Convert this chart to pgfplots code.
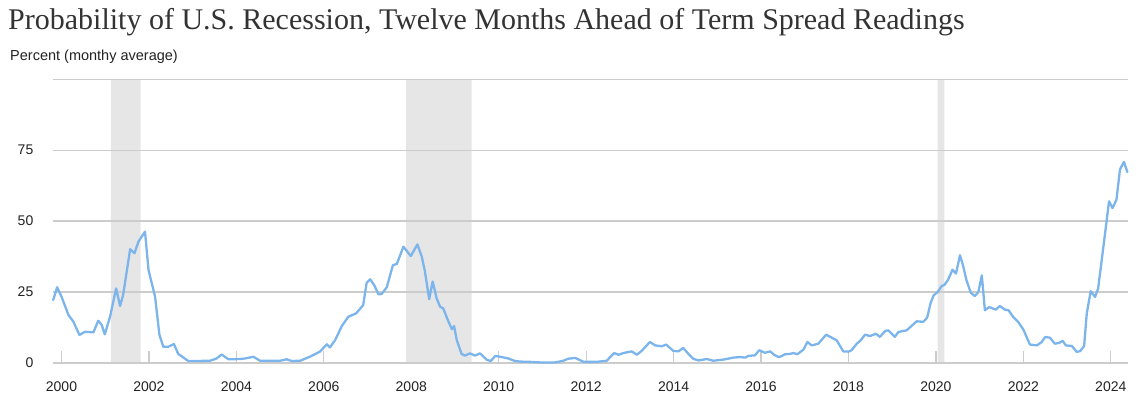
\documentclass[border=0pt]{standalone}
\usepackage{pgfplots}
\pgfplotsset{compat=1.18}
\usepackage{fontspec}
\setmainfont{Liberation Sans}
\newfontfamily\titlefont{Liberation Serif}
\definecolor{gridc}{HTML}{CCCCCC}
\definecolor{shadec}{HTML}{E6E6E6}
\definecolor{linec}{HTML}{7CB5EC}
\definecolor{txtc}{HTML}{222222}
\definecolor{titlec}{HTML}{333333}
\begin{document}
\begin{tikzpicture}[x=1pt,y=1pt]
\useasboundingbox (0,0) rectangle (1145,406);
\node[anchor=base west, inner sep=0pt, text=titlec] at (8,376) {\titlefont\fontsize{30}{34}\selectfont Probability of U.S. Recession, Twelve Months Ahead of Term Spread Readings};
\node[anchor=base west, inner sep=0pt, text=txtc] at (10,345) {\fontsize{14.5}{17}\selectfont Percent (monthy average)};
\begin{axis}[
  at={(53.3pt,43pt)}, anchor=south west,
  scale only axis, width=1074.4pt, height=283.7pt,
  xmin=1999.8124, xmax=2024.387, ymin=0, ymax=100,
  clip=false,
  axis line style={draw=none},
  xtick={2000,2002,...,2024},
  ytick={0,25,50,75},
  xtick pos=bottom, ytick pos=left,
  tick align=inside,
  major tick length=12pt,
  xtick style={gridc, line width=1.3pt},
  ytick style={draw=none},
  tick label style={font=\fontsize{14}{16}\selectfont, text=txtc, inner sep=0pt,
    /pgf/number format/assume math mode=true, /pgf/number format/1000 sep={}},
  xticklabel style={anchor=north},
  yticklabel style={anchor=east},
  xticklabel shift=19pt,
  yticklabel shift=19.8pt,
]
% recessions
\addplot[fill=shadec, draw=none] coordinates {(2001.132,0)(2001.132,100)(2001.812,100)(2001.812,0)} \closedcycle;
\addplot[fill=shadec, draw=none] coordinates {(2007.880,0)(2007.880,100)(2009.382,100)(2009.382,0)} \closedcycle;
\addplot[fill=shadec, draw=none] coordinates {(2020.040,0)(2020.040,100)(2020.191,100)(2020.191,0)} \closedcycle;
% grid lines
\addplot[gridc, line width=1.3pt] coordinates {(1999.8124,0)(2024.387,0)};
\addplot[gridc, line width=1.3pt] coordinates {(1999.8124,25)(2024.387,25)};
\addplot[gridc, line width=1.3pt] coordinates {(1999.8124,50)(2024.387,50)};
\addplot[gridc, line width=1.3pt] coordinates {(1999.8124,75)(2024.387,75)};
\addplot[gridc, line width=1.3pt] coordinates {(1999.8124,100)(2024.387,100)};
% probability
\addplot[linec, line width=2.3pt, line join=round, line cap=round] coordinates {
(1999.81,22.2)(1999.90,26.7)(2000.00,23.4)(2000.16,16.9)(2000.27,14.6)(2000.41,9.9)
(2000.54,11.0)(2000.73,10.8)(2000.84,14.9)(2000.92,13.4)(2000.99,10.1)(2001.11,16.3)
(2001.25,26.3)(2001.34,20.1)(2001.41,24.0)(2001.57,40.1)(2001.67,38.7)(2001.76,42.8)
(2001.91,46.3)(2001.99,32.8)(2002.14,23.4)(2002.24,9.9)(2002.33,5.7)(2002.44,5.7)
(2002.57,6.7)(2002.67,3.2)(2002.90,0.7)(2003.09,0.7)(2003.40,0.8)(2003.55,1.6)
(2003.66,3.0)(2003.82,1.3)(2004.08,1.4)(2004.20,1.6)(2004.39,2.2)(2004.54,0.8)
(2005.00,0.8)(2005.15,1.3)(2005.27,0.7)(2005.46,0.8)(2005.68,2.2)(2005.91,4.0)
(2006.07,6.6)(2006.14,5.5)(2006.26,8.1)(2006.41,13.0)(2006.56,16.3)(2006.74,17.5)
(2006.90,20.4)(2006.98,28.3)(2007.06,29.5)(2007.15,27.5)(2007.25,24.2)(2007.32,24.3)
(2007.44,26.7)(2007.58,34.5)(2007.67,34.9)(2007.82,41.0)(2007.99,37.7)(2008.14,41.8)
(2008.24,37.5)(2008.31,32.5)(2008.41,22.5)(2008.49,28.7)(2008.58,22.8)(2008.66,19.8)
(2008.73,19.3)(2008.85,14.6)(2008.93,11.9)(2008.98,13.0)(2009.04,8.1)(2009.15,3.2)
(2009.23,2.6)(2009.34,3.4)(2009.46,2.6)(2009.57,3.4)(2009.73,1.1)(2009.82,0.7)
(2009.92,2.5)(2010.03,2.2)(2010.22,1.6)(2010.37,0.7)(2010.49,0.5)(2010.72,0.4)
(2010.94,0.2)(2011.29,0.2)(2011.48,0.8)(2011.59,1.5)(2011.75,1.8)(2011.94,0.4)
(2012.24,0.4)(2012.47,0.8)(2012.64,3.5)(2012.74,2.9)(2012.85,3.5)(2013.04,4.1)
(2013.16,2.9)(2013.27,4.3)(2013.46,7.4)(2013.58,6.2)(2013.73,5.9)(2013.83,6.5)
(2013.99,4.3)(2014.11,4.1)(2014.22,5.3)(2014.34,3.2)(2014.45,1.5)(2014.57,0.9)
(2014.76,1.4)(2014.91,0.8)(2015.14,1.2)(2015.37,1.9)(2015.52,2.1)(2015.64,1.9)
(2015.71,2.5)(2015.86,2.7)(2015.96,4.5)(2016.09,3.6)(2016.21,4.1)(2016.30,2.9)
(2016.40,2.1)(2016.47,2.4)(2016.55,3.1)(2016.66,3.2)(2016.74,3.5)(2016.83,3.1)
(2016.97,4.7)(2017.06,7.4)(2017.16,6.2)(2017.31,6.8)(2017.49,10.0)(2017.62,8.9)
(2017.73,8.0)(2017.88,4.1)(2018.00,4.0)(2018.07,4.5)(2018.19,6.8)(2018.28,8.0)
(2018.38,10.0)(2018.49,9.5)(2018.63,10.3)(2018.72,9.2)(2018.84,11.3)(2018.91,11.5)
(2019.06,9.2)(2019.14,10.9)(2019.25,11.3)(2019.33,11.5)(2019.56,14.7)(2019.71,14.5)
(2019.80,16.0)(2019.88,21.2)(2019.95,23.9)(2020.04,25.0)(2020.13,27.1)(2020.20,27.6)
(2020.28,29.4)(2020.38,32.9)(2020.46,31.5)(2020.55,38.0)(2020.62,34.4)(2020.70,29.1)
(2020.80,24.7)(2020.89,23.6)(2020.97,25.0)(2021.05,30.9)(2021.12,18.6)(2021.22,19.7)
(2021.37,18.8)(2021.46,20.1)(2021.58,18.8)(2021.66,18.6)(2021.77,16.2)(2021.88,14.5)
(2022.00,11.8)(2022.15,6.5)(2022.31,6.2)(2022.42,7.4)(2022.50,9.2)(2022.61,8.9)
(2022.72,6.8)(2022.82,7.1)(2022.90,7.8)(2022.97,6.2)(2023.11,6.0)(2023.22,3.9)
(2023.30,4.2)(2023.39,6.0)(2023.45,17.4)(2023.54,25.3)(2023.64,23.3)(2023.71,26.2)
(2023.83,40.9)(2023.96,57.0)(2024.04,54.6)(2024.13,57.6)(2024.21,68.2)(2024.30,70.9)
(2024.38,67.3)
};
\end{axis}
\end{tikzpicture}
\end{document}
